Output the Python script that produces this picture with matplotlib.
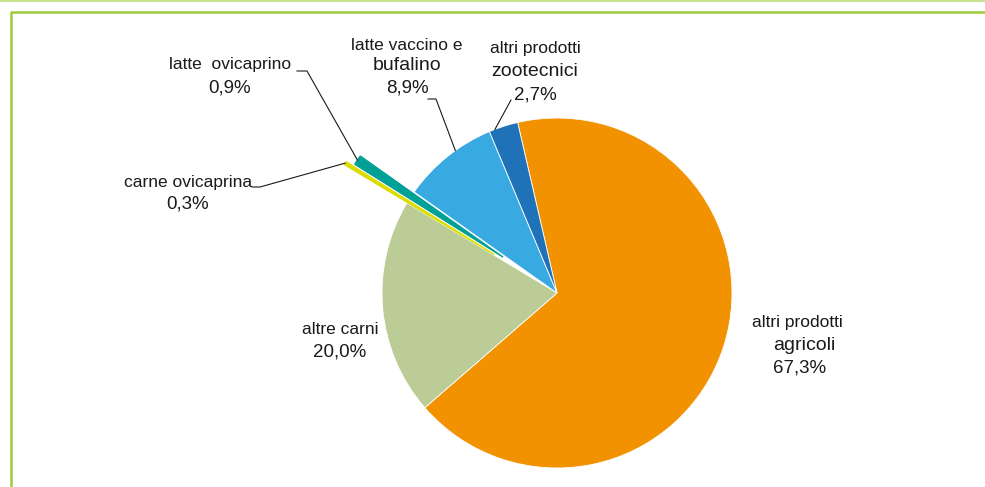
import matplotlib
matplotlib.use("Agg")
import matplotlib.pyplot as plt
import numpy as np

# quote percentuali della produzione
categorie = ["altri prodotti agricoli", "altre carni", "carne ovicaprina",
             "latte ovicaprino", "latte vaccino e bufalino", "altri prodotti zootecnici"]
quote = [67.3, 20.0, 0.3, 0.9, 8.9, 2.7]
etichette_pct = ["67,3%", "20,0%", "0,3%", "0,9%", "8,9%", "2,7%"]
colori = ["#F29200", "#BBCC96", "#DCDC00", "#00A096", "#38A9E1", "#1F71B8"]
esplosione = [0, 0, 0.42, 0.37, 0, 0]

plt.rcParams["font.family"] = ["Liberation Sans", "DejaVu Sans"]

fig = plt.figure(figsize=(9.85, 4.87), dpi=100)
ax = fig.add_axes([0, 0, 1, 1])

cx, cy, R = 557, 293, 175
# y invertito -> angoli in senso opposto
wedges, _ = ax.pie(quote, colors=colori, startangle=-103, counterclock=True,
                   radius=R, center=(cx, cy), explode=[e * R for e in esplosione],
                   wedgeprops=dict(linewidth=0.6, edgecolor="white"), frame=True)
# le fette staccate sono sottili: bordo dello stesso colore
for i, e in enumerate(esplosione):
    if e > 0:
        wedges[i].set_edgecolor(colori[i])
        wedges[i].set_linewidth(1.0)
ax.set_xlim(0, 985)
ax.set_ylim(487, 0)
ax.axis("off")


def punto(w, frac=0.5, rr=1.0):
    th = np.deg2rad(w.theta1 + frac * (w.theta2 - w.theta1))
    x0, y0 = w.center
    return x0 + w.r * rr * np.cos(th), y0 + w.r * rr * np.sin(th)


fs = 12.5
col = "#1a1a1a"


def righe(x, ys, testi, sizes, ha="center"):
    for y, t, s in zip(ys, testi, sizes):
        ax.text(x, y, t, fontsize=s, ha=ha, va="center", color=col)


# etichette
righe(230, [65, 88], ["latte  ovicaprino", etichette_pct[3]], [fs, fs + 1])
righe(188, [183, 204], ["carne ovicaprina", etichette_pct[2]], [fs, fs + 1])
righe(407, [45, 66, 88], ["latte vaccino e", "bufalino", etichette_pct[4]], [fs, fs + 1.5, fs + 1])
righe(535, [48, 72, 95], ["altri prodotti", "zootecnici", etichette_pct[5]], [fs, fs + 1.5, fs + 1])
righe(340, [330, 352], ["altre carni", etichette_pct[1]], [fs, fs + 1])
ax.text(752, 322, "altri prodotti", fontsize=fs, ha="left", va="center", color=col)
ax.text(773, 345, "agricoli", fontsize=fs + 1.5, ha="left", va="center", color=col)
ax.text(773, 368, etichette_pct[0], fontsize=fs + 1, ha="left", va="center", color=col)

# linee guida
lw = 0.8
x, y = punto(wedges[3], 0.5)
ax.plot([297, 307, x], [71, 71, y], color=col, lw=lw)
x, y = punto(wedges[2], 0.5)
ax.plot([252, 260, x], [187, 187, y], color=col, lw=lw)
x, y = punto(wedges[4], 0.6)
ax.plot([428, 436, x], [99, 99, y], color=col, lw=lw)
x, y = punto(wedges[5], 0.2)
ax.plot([511, x], [100, y], color=col, lw=lw)

# cornice verde
ax.plot([0, 985], [0.5, 0.5], color="#C8E290", lw=1.5, clip_on=False)
ax.plot([11, 11, 985], [487, 12, 12], color="#9CCB3B", lw=1.8, clip_on=False)

fig.savefig("out.png", dpi=100)
